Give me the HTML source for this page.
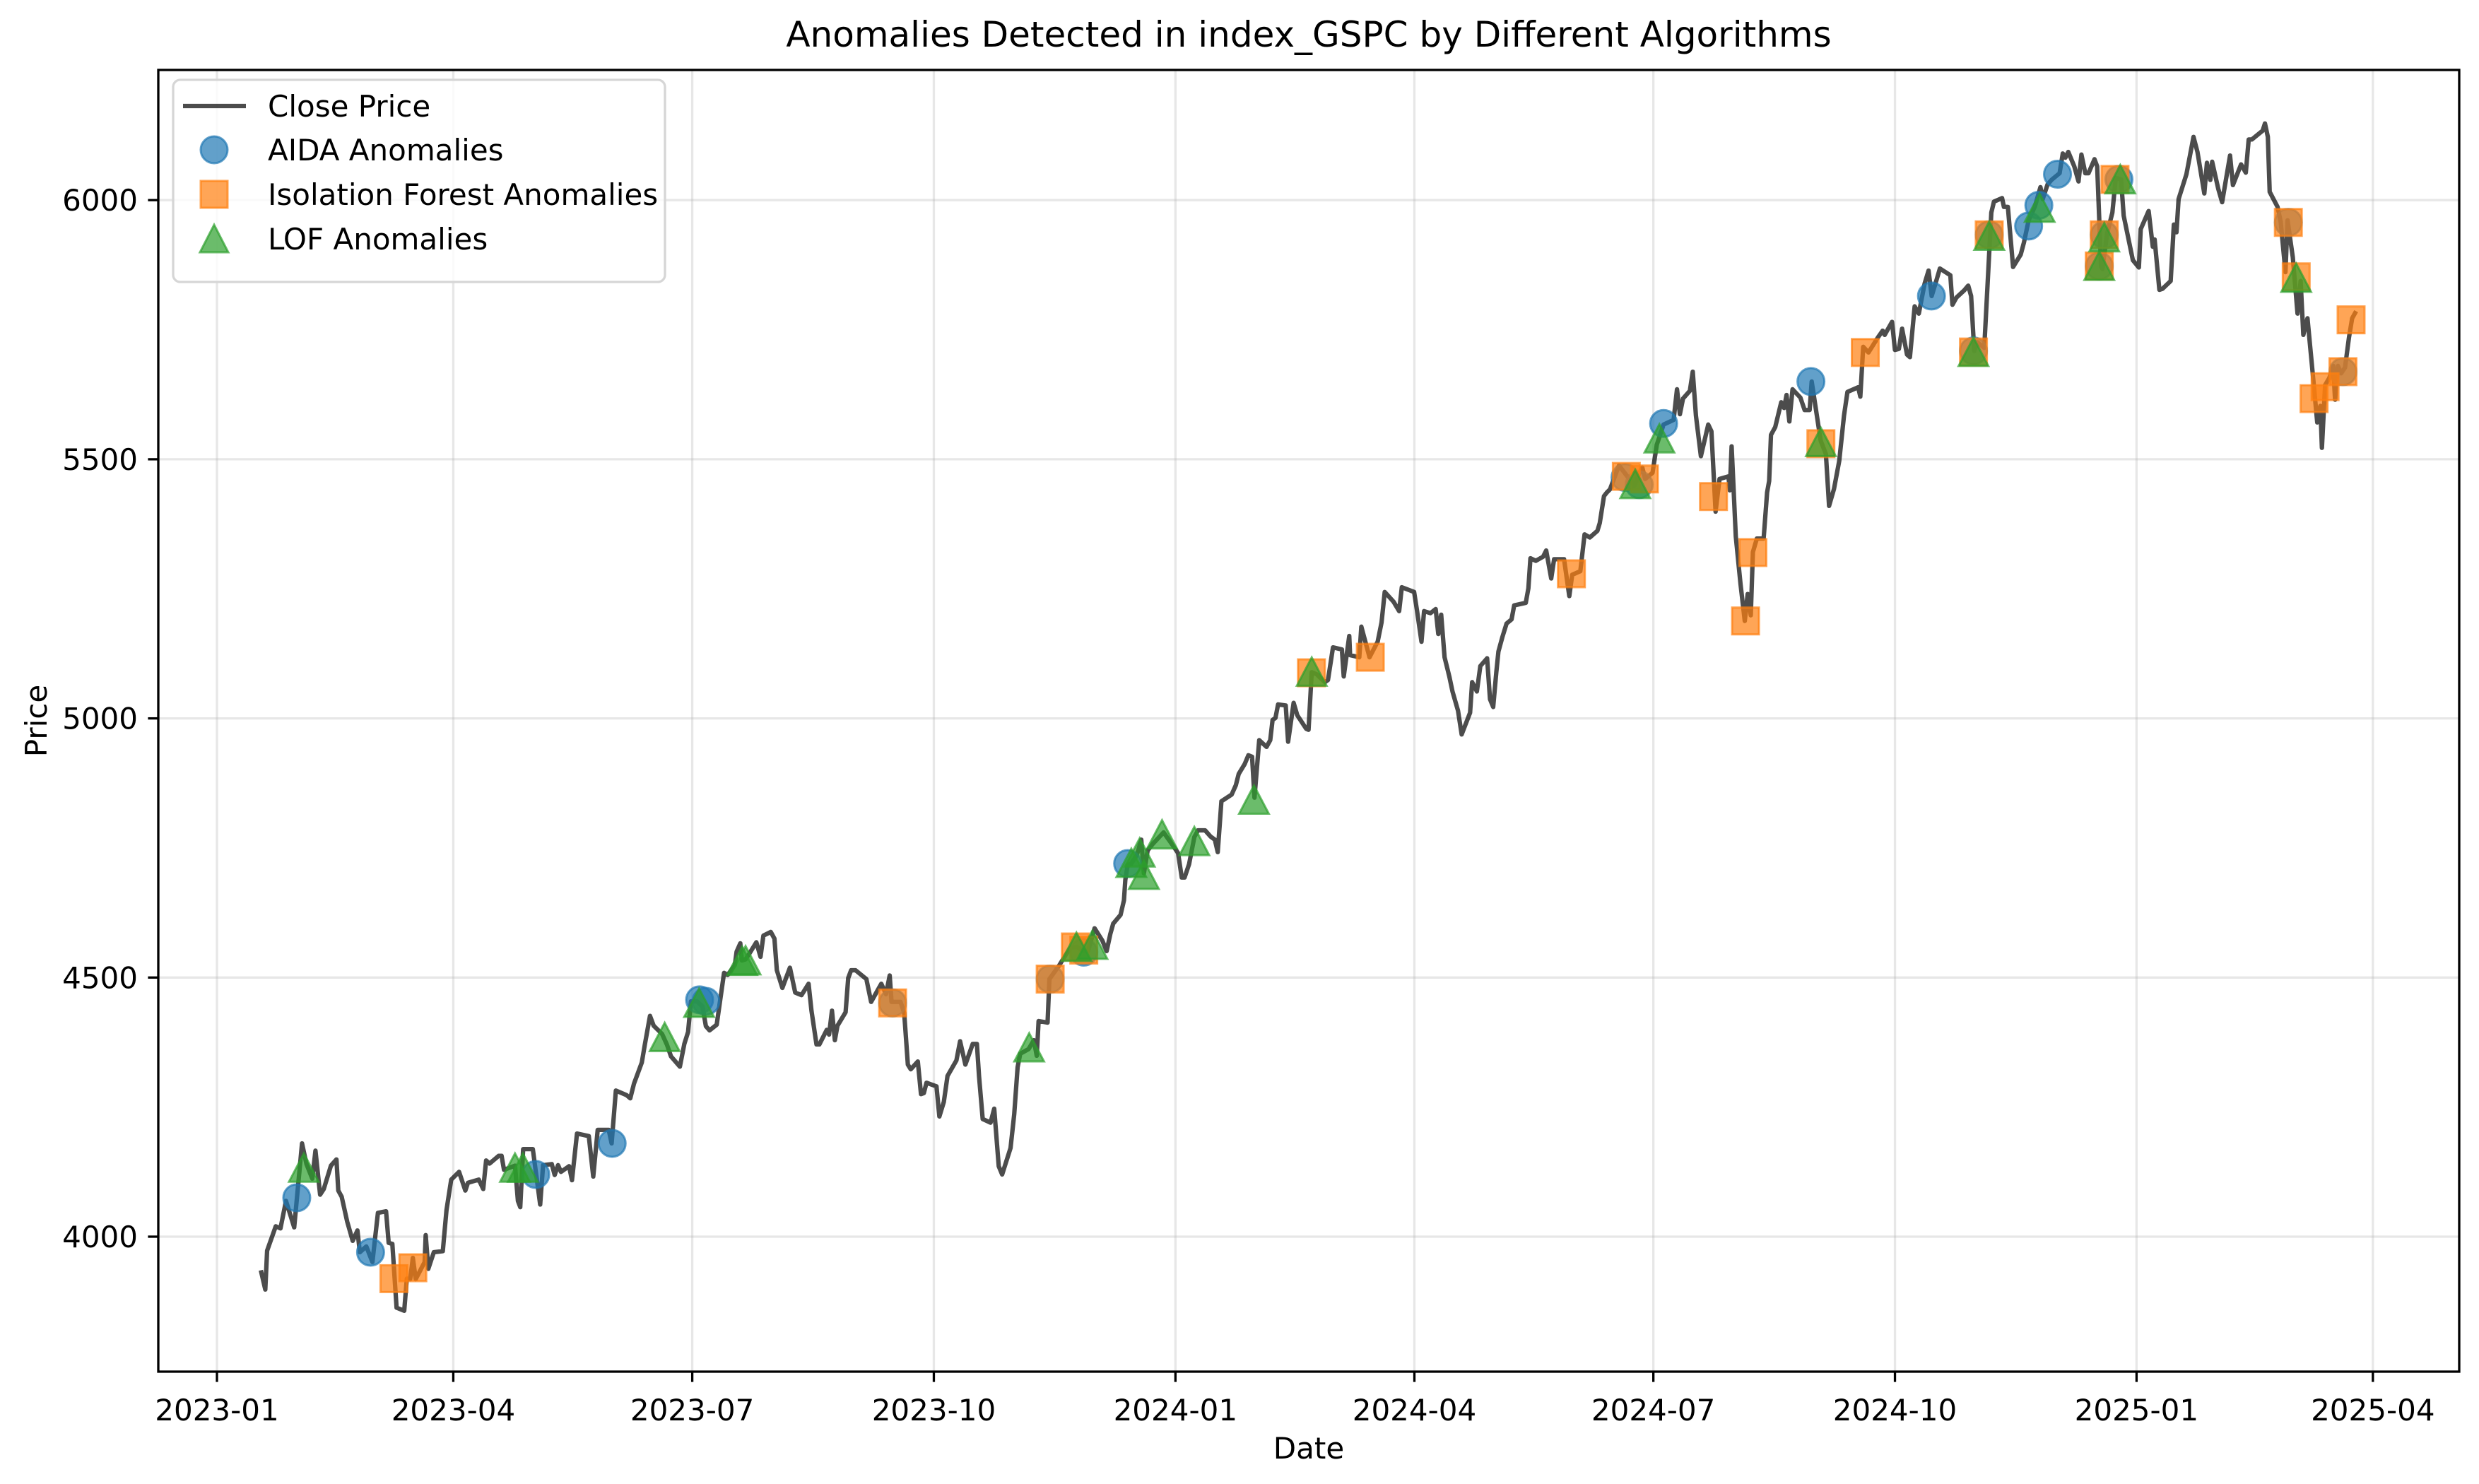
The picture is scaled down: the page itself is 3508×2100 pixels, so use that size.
<!DOCTYPE html>
<html><head><meta charset="utf-8"><style>
html,body{margin:0;padding:0;background:#fff}
svg{display:block;font-family:"DejaVu Sans","Liberation Sans",sans-serif}
</style></head><body>
<svg id="chart" width="3508" height="2100" viewBox="0 0 3508 2100" xmlns="http://www.w3.org/2000/svg">
<rect x="0" y="0" width="3508" height="2100" fill="#fff"/>
<g id="grid"></g>
<g id="series"></g>
<g id="axes"></g>
<text x="1852" y="66" font-size="50" text-anchor="middle">Anomalies Detected in index_GSPC by Different Algorithms</text>
<text x="1852" y="2064" font-size="42" text-anchor="middle">Date</text>
<text x="0" y="0" font-size="42" text-anchor="middle" transform="translate(66,1020) rotate(-90)">Price</text>
<g id="legend">
<rect x="245" y="113" width="696" height="286" rx="10" fill="#fff" fill-opacity="0.8" stroke="#d6d6d6" stroke-width="3.3"/>
<line x1="259" y1="150" x2="348" y2="150" stroke="#000" stroke-opacity="0.7" stroke-width="6.25"/>
<text x="379" y="165" font-size="42">Close Price</text>
<circle cx="303" cy="212" r="19" fill="#1f77b4" fill-opacity="0.7" stroke="#1f77b4" stroke-opacity="0.7" stroke-width="3"/>
<text x="379" y="227" font-size="42">AIDA Anomalies</text>
<rect x="284" y="256" width="38" height="38" fill="#ff7f0e" fill-opacity="0.7" stroke="#ff7f0e" stroke-opacity="0.7" stroke-width="3"/>
<text x="379" y="290" font-size="42">Isolation Forest Anomalies</text>
<polygon points="303,318 323,357 283,357" fill="#2ca02c" fill-opacity="0.7" stroke="#2ca02c" stroke-opacity="0.7" stroke-width="3"/>
<text x="379" y="353" font-size="42">LOF Anomalies</text>
</g>
</svg>
<script>
// days since 2023-01-01
const priceDays = [16.9,18.4,19.1,22.4,24.2,26.3,29.4,32.4,34.1,36.3,37.5,39.3,40.7,43.4,45.5,46.2,47.5,49.6,51.7,53.5,54.4,56.9,59.2,61.3,64.4,65.4,66.8,68.4,71.3,72.3,73.6,74.6,75.7,79.1,79.5,80.5,82.6,86.0,87.4,89.2,92.2,94.6,95.6,99.7,101.4,102.5,103.8,107.3,108.4,109.3,113.5,114.6,115.5,116.6,120.3,123.1,124.2,127.5,128.6,129.9,131.0,134.1,135.2,137.1,141.6,143.3,145.0,149.2,150.3,151.9,156.0,157.4,158.8,161.8,162.9,164.9,166.3,169.5,171.4,172.9,176.3,178.0,179.4,180.5,182.8,184.9,186.2,187.6,190.3,193.1,194.5,197.2,197.9,199.3,199.9,201.3,202.6,205.4,207.0,208.1,210.9,212.3,213.2,215.3,218.2,220.2,222.6,225.3,226.4,228.3,229.4,232.2,233.1,234.2,235.3,236.3,239.4,240.4,241.5,243.2,247.3,249.1,253.0,254.8,256.2,256.9,260.3,261.7,263.1,264.2,266.9,268.1,269.2,270.2,274.0,275.1,276.8,278.2,281.6,283.0,285.0,287.8,289.4,290.2,291.6,294.6,296.0,297.7,299.0,302.2,303.6,304.9,305.9,309.1,311.1,312.2,312.9,316.3,317.0,320.7,323.5,325.1,327.6,329.7,331.7,334.2,337.2,338.8,340.2,341.3,344.1,345.4,345.9,346.8,348.2,350.3,352.0,353.0,354.4,356.4,360.5,364.0,366.0,367.4,368.5,370.2,372.2,373.6,376.3,378.4,380.0,381.1,382.5,386.4,388.0,389.1,391.4,392.8,394.2,395.1,396.9,399.7,401.1,402.0,403.1,404.1,407.0,407.9,410.0,411.4,414.8,415.7,416.9,418.8,421.9,423.1,425.0,428.4,429.1,431.2,431.5,435.0,435.8,438.9,442.0,443.5,444.7,448.1,450.2,451.2,455.9,457.0,458.7,459.7,462.1,464.1,465.1,466.2,467.5,469.3,470.5,472.6,474.0,477.2,478.0,479.8,481.1,483.7,484.8,486.0,487.2,488.0,489.5,491.1,493.0,494.0,498.4,499.4,500.2,502.2,505.0,506.2,508.1,509.2,513.0,515.0,516.1,519.2,520.8,522.8,525.7,526.6,528.2,529.3,530.5,533.9,539.8,541.6,542.8,543.9,546.7,548.3,550.9,554.7,556.0,557.1,558.3,560.9,562.0,563.2,565.1,567.9,569.1,570.7,572.2,575.6,576.1,576.8,578.4,580.2,581.8,582.9,584.1,584.9,586.4,589.0,590.3,591.1,591.8,593.4,595.7,596.8,597.7,598.8,600.0,603.0,604.6,606.5,607.3,610.7,612.7,613.9,615.8,617.8,619.6,620.9,625.0,625.8,626.9,628.9,632.5,634.3,635.1,637.9,639.0,640.5,641.7,643.6,644.7,646.5,648.1,650.3,651.8,653.0,654.9,656.1,660.1,660.9,662.4,665.4,666.9,668.0,669.2,670.3,673.0,673.7,675.7,676.7,679.8,680.5,682.0,684.0,686.9,688.1,689.9,692.3,694.4,695.3,697.1,698.6,701.7,702.9,703.9,705.0,707.3,708.9,710.0,711.5,712.7,715.0,716.0,717.5,718.0,719.8,721.8,723.1,725.1,726.1,729.6,731.9,732.6,735.6,737.2,737.9,739.7,740.9,744.0,745.2,746.2,747.0,750.0,752.7,754.2,756.8,757.8,759.1,759.8,762.1,763.6,766.6,767.7,770.8,772.6,773.7,774.9,779.0,779.9,781.0,781.7,784.7,785.9,787.7,788.5,790.5,792.3,793.5,794.5,796.1,798.3,799.8,801.0,801.6,802.8,804.4,805.9,806.6,807.7,808.9,810.4,811.9,813.1,814.2];
const closePrices = [3931,3898,3973,4020,4016,4069,4018,4180,4140,4112,4166,4081,4092,4137,4149,4089,4077,4029,3992,4012,3970,3981,3951,4046,4049,3988,3986,3863,3857,3919,3918,3959,3918,3951,4003,3938,3970,3972,4051,4110,4125,4089,4104,4110,4092,4147,4141,4156,4156,4129,4137,4069,4057,4169,4169,4062,4138,4140,4119,4138,4125,4136,4109,4199,4194,4116,4206,4206,4180,4282,4273,4267,4295,4336,4369,4426,4407,4391,4370,4348,4328,4372,4395,4454,4454,4444,4406,4398,4409,4509,4505,4524,4550,4566,4533,4535,4545,4568,4540,4581,4588,4575,4514,4480,4519,4471,4466,4488,4436,4371,4371,4399,4390,4436,4379,4407,4433,4499,4514,4514,4497,4453,4488,4468,4504,4453,4453,4432,4332,4323,4338,4275,4277,4297,4290,4232,4260,4310,4340,4377,4332,4372,4372,4310,4227,4220,4247,4136,4120,4171,4236,4327,4353,4362,4379,4349,4416,4413,4497,4523,4546,4558,4559,4551,4551,4595,4571,4551,4584,4604,4621,4649,4688,4717,4720,4736,4766,4701,4745,4758,4780,4755,4740,4693,4693,4719,4771,4784,4784,4772,4766,4742,4840,4853,4871,4893,4912,4929,4926,4847,4958,4945,4958,4997,5001,5027,5025,4955,5030,5006,4980,4978,5089,5085,5070,5074,5137,5133,5081,5159,5122,5118,5177,5118,5148,5185,5244,5225,5207,5253,5244,5208,5148,5207,5203,5211,5163,5200,5118,5081,5052,5015,4969,5011,5070,5052,5101,5116,5037,5022,5089,5129,5157,5183,5191,5218,5223,5251,5309,5304,5312,5324,5270,5307,5307,5236,5277,5284,5355,5349,5362,5377,5429,5436,5442,5488,5449,5473,5484,5462,5474,5528,5567,5576,5635,5587,5617,5632,5669,5584,5506,5567,5554,5399,5462,5467,5440,5525,5351,5259,5188,5240,5199,5321,5347,5347,5436,5458,5547,5562,5610,5599,5624,5573,5635,5619,5595,5595,5650,5536,5510,5410,5443,5497,5584,5630,5639,5621,5717,5706,5735,5748,5740,5765,5711,5713,5752,5702,5697,5795,5781,5839,5864,5815,5847,5868,5855,5798,5812,5826,5835,5815,5709,5726,5715,5783,5976,5997,6004,5987,5987,5871,5895,5918,5961,5988,6025,6002,6030,6039,6052,6090,6082,6093,6065,6036,6088,6052,6052,6079,6065,5872,5867,5936,5976,6043,6040,5970,5884,5870,5944,5979,5910,5924,5827,5829,5844,5953,5938,6002,6050,6122,6093,6013,6072,6039,6074,6022,5996,6086,6029,6069,6053,6117,6117,6134,6148,6122,6016,5987,5958,5861,5961,5890,5781,5844,5740,5772,5654,5571,5603,5522,5643,5657,5680,5615,5680,5666,5677,5735,5772,5782];
const aidaDays = [30.4,58.5,121.4,150.5,183.8,186.2,257.3,317.3,330.1,346.8,536.2,541.6,550.9,607.0,652.9,668.9,674.9,689.9,693.8,700.9,716.8,718.7,724.3,788.8,809.6];
const aidaPrices = [4075,3970,4120,4180,4457,4454,4451,4497,4549,4720,5465,5451,5569,5650,5815,5709,5933,5950,5990,6050,5873,5933,6040,5957,5669];
const ifDays = [67.4,74.6,257.3,317.3,326.9,330.1,416.8,439.2,515.8,536.7,543.6,569.9,582.1,584.9,610.8,627.7,668.9,674.9,716.8,718.7,722.8,788.8,791.8,798.6,802.8,809.6,812.7];
const ifPrices = [3919,3940,4451,4497,4559,4553,5088,5118,5279,5467,5462,5428,5188,5320,5530,5706,5707,5933,5873,5933,6040,5957,5852,5617,5640,5669,5769];
const lofDays = [33.1,113.5,116.5,170.5,183.6,200.0,201.3,309.3,327.3,333.4,348.2,351.4,353.0,359.9,372.2,394.9,416.9,540.1,549.3,610.8,668.9,674.9,694.1,716.8,718.7,724.8,791.8];
const lofPrices = [4132,4132,4132,4384,4450,4531,4532,4364,4558,4562,4720,4740,4697,4775,4762,4842,5089,5451,5539,5532,5706,5930,5984,5872,5927,6039,5849];
const xTickDays = [0,90,181,273,365,456,547,639,731,821];
const xTickLabels = ['2023-01','2023-04','2023-07','2023-10','2024-01','2024-04','2024-07','2024-10','2025-01','2025-04'];
const yTicks = [4000,4500,5000,5500,6000];

const NS='http://www.w3.org/2000/svg';
const L=224,R=3480,T=99,B=1941;
function xs(d){return 307+d*3.716;}
function ys(p){return 1750-(p-4000)*0.7334;}
function mk(tag,attrs,parent){const e=document.createElementNS(NS,tag);for(const k in attrs)e.setAttribute(k,attrs[k]);parent.appendChild(e);return e;}
const grid=document.getElementById('grid'),axes=document.getElementById('axes'),series=document.getElementById('series');

xTickDays.forEach((d,i)=>{
  const x=xs(d);
  const g=mk('line',{x1:x,x2:x,y1:T,y2:B,stroke:'#b0b0b0','stroke-opacity':0.3,'stroke-width':3.3},grid);
  
  
  const t=mk('line',{x1:x,x2:x,y1:B,y2:B+14.6,stroke:'#000','stroke-width':3.3},axes);
  
  
  const lb=mk('text',{x:x,y:2010,'font-size':42,'text-anchor':'middle'},axes);
  lb.textContent=xTickLabels[i];
  
  
});
yTicks.forEach(v=>{
  const y=ys(v);
  const g=mk('line',{x1:L,x2:R,y1:y,y2:y,stroke:'#b0b0b0','stroke-opacity':0.3,'stroke-width':3.3},grid);
  
  
  const t=mk('line',{x1:L-14.6,x2:L,y1:y,y2:y,stroke:'#000','stroke-width':3.3},axes);
  
  
  const lb=mk('text',{x:L-29,y:y+15,'font-size':42,'text-anchor':'end'},axes);
  lb.textContent=v;
  
  
});
const frame=mk('rect',{x:L,y:T,width:R-L,height:B-T,fill:'none',stroke:'#000','stroke-width':3.3},axes);



const pts=priceDays.map((d,i)=>xs(d).toFixed(1)+','+ys(closePrices[i]).toFixed(1)).join(' ');
const line=mk('polyline',{points:pts,fill:'none',stroke:'#000','stroke-opacity':0.7,'stroke-width':6.25,'stroke-linejoin':'round','stroke-linecap':'square'},series);



aidaDays.forEach((d,i)=>{
  const c=mk('circle',{cx:xs(d),cy:ys(aidaPrices[i]),r:19,fill:'#1f77b4','fill-opacity':0.7,stroke:'#1f77b4','stroke-opacity':0.7,'stroke-width':3},series);
  
  
});
ifDays.forEach((d,i)=>{
  const x=xs(d),y=ys(ifPrices[i]);
  const s=mk('rect',{x:x-19,y:y-19,width:38,height:38,fill:'#ff7f0e','fill-opacity':0.7,stroke:'#ff7f0e','stroke-opacity':0.7,'stroke-width':3},series);
  
  
});
lofDays.forEach((d,i)=>{
  const x=xs(d),y=ys(lofPrices[i]);
  const p=mk('polygon',{points:`${x},${y-21} ${x+21},${y+19} ${x-21},${y+19}`,fill:'#2ca02c','fill-opacity':0.7,stroke:'#2ca02c','stroke-opacity':0.7,'stroke-width':3},series);
  
  
});
</script>
</body></html>
